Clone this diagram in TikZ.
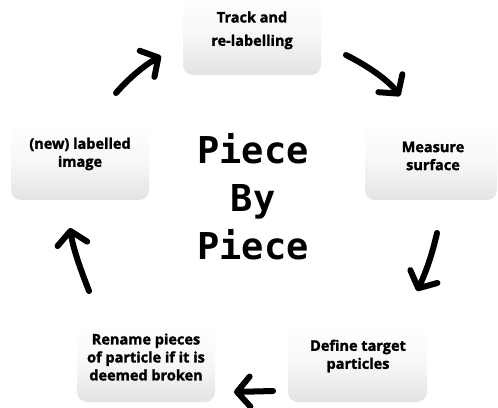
\documentclass[tikz,border=0pt]{standalone}
\usepackage{fontspec}
\setmainfont{Open Sans}[BoldFeatures={FakeBold=1.6}]
\newfontfamily\monob{DejaVu Sans Mono}
\usetikzlibrary{arrows.meta}
\begin{document}
\begin{tikzpicture}[x=1pt,y=-1pt,
  box/.style={rounded corners=10pt, top color=white, bottom color=black!11, middle color=white!97!black, draw=none},
  lbl/.style={font=\fontsize{14.5}{18}\selectfont\bfseries, align=center, inner sep=0pt},
  flow/.style={line width=6pt, line cap=round, -{Straight Barb[length=13pt,width=30pt,line cap=round,line join=round]}}]
\useasboundingbox (0,0) rectangle (498,407);
\fill[white] (0,0) rectangle (498,407);
% boxes
\shade[box] (183,-8) rectangle (321,75);
\shade[box] (365,122) rectangle (497,200);
\shade[box] (288,325) rectangle (427,402);
\shade[box] (77,325) rectangle (215,402);
\shade[box] (11,122) rectangle (149,200);
% labels
\node[lbl] (track) at (252,17) {Track and};
\node[lbl] (relab) at (252,42) {re-labelling};
\node[lbl] (measure) at (433,156) {Measure\\surface};
\node[lbl] (define) at (358,356) {Define target\\particles};
\node[lbl] (rename) at (146,357) {Rename pieces\\of particle if it is\\deemed broken};
\node[lbl] (newimg) at (80,154) {(new) labelled\\image};
\node[font=\monob\fontsize{37}{48}\selectfont\bfseries, align=center, inner sep=0pt] (title) at (253,197) {Piece\\By\\Piece};
% arrow end points
\coordinate (a1s) at (116,93); \coordinate (a1e) at (161,56);
\coordinate (a2s) at (346,55); \coordinate (a2e) at (400,96);
\coordinate (a3s) at (437,233); \coordinate (a3e) at (417,291);
\coordinate (a4s) at (273,391); \coordinate (a4e) at (234,392);
\coordinate (a5s) at (89,291); \coordinate (a5e) at (70,228);
\draw[flow] (a1s) .. controls (130,77) and (145,65) .. (a1e);
\draw[flow] (a2s) .. controls (368,66) and (388,80) .. (a2e);
\draw[flow] (a3s) .. controls (432,255) and (426,272) .. (a3e);
\draw[flow] (a4s) -- (a4e);
\draw[flow] (a5s) .. controls (80,268) and (73,248) .. (a5e);
\end{tikzpicture}
\end{document}
